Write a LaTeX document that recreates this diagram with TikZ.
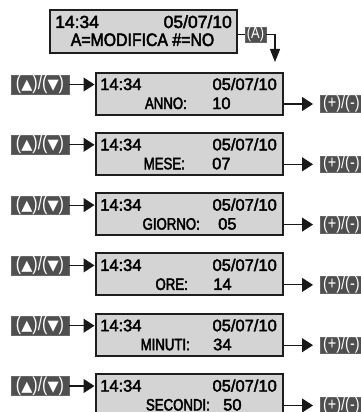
\documentclass[tikz,border=0pt]{standalone}
\usepackage{fontspec}
\setmainfont{Liberation Sans}
\newfontfamily\lcddig[FakeBold=2.5]{Liberation Sans}
\newfontfamily\lcdlet[FakeStretch=0.8,FakeBold=2.5]{Liberation Sans}
\newfontfamily\lcdtop[FakeStretch=0.88,FakeBold=2.5]{Liberation Sans}
\newfontfamily\keyfont[FakeStretch=0.8]{Liberation Sans}
\newfontfamily\symf{DejaVu Sans}
\usetikzlibrary{arrows.meta}
\definecolor{lcdgray}{HTML}{D4D4D4}
\definecolor{keygray}{HTML}{4F4F4F}
\definecolor{edgecol}{HTML}{1E1E1E}
\newcommand\keyup{{\symf\fontsize{14.5}{14.5}\selectfont ▲}}
\newcommand\keydn{{\symf\fontsize{14.5}{14.5}\selectfont ▼}}
\tikzset{
  lcd/.style={draw=edgecol, line width=2pt, fill=lcdgray, inner sep=0pt, anchor=north west,
    minimum width=187pt, minimum height=42pt},
  dig/.style={inner sep=0pt, font=\lcddig\fontsize{16.5}{16.5}\selectfont},
  lettxt/.style={inner sep=0pt, font=\lcdlet\fontsize{16.5}{16.5}\selectfont},
  keybox/.style={fill=keygray, draw=black!60, line width=0.4pt, text=white, inner sep=0pt},
  conn/.style={draw=black!90, line width=1.1pt},
  arr/.style={conn, -{Triangle[length=11pt,width=14pt]}},
  arrdown/.style={conn, -{Triangle[length=13pt,width=10pt]}},
}
\begin{document}
\begin{tikzpicture}[x=1pt,y=-1pt]
\path[use as bounding box] (0,0) rectangle (361,412);
\clip (0,0) rectangle (361,412);
\fill[white] (0,0) rectangle (361,412);
% top box
\node[lcd, minimum width=187pt, minimum height=43pt] (top) at (49,9.5) {};
\node[dig, anchor=base west, font=\lcddig\fontsize{17.5}{17.5}\selectfont] (toptime) at (55,28) {14:34};
\node[dig, anchor=base east, font=\lcddig\fontsize{17.5}{17.5}\selectfont] (topdate) at (232,28) {05/07/10};
\node[anchor=base, inner sep=0pt, font=\lcdtop\fontsize{18}{18}\selectfont] (topmsg) at (142.5,46) {A=MODIFICA \#=NO};
\node[keybox, minimum width=21pt, minimum height=11pt, font=\keyfont\fontsize{16}{16}\selectfont] (ka) at (255.5,34.5) {(A)};
\coordinate (aturn) at (275,34.5);
\coordinate (atip) at (275,62);
\draw[conn] (top.east |- ka) -- (ka.west);
\draw[arrdown] (ka.east) -- (aturn) -- (atip);
% rows
\foreach \i/\lab/\val/\le/\vs in {1/ANNO:/10/187/212, 2/MESE:/07/185/212, 3/GIORNO:/05/200/218,
    4/ORE:/14/188/213, 5/MINUTI:/34/190/213, 6/SECONDI:/50/210/223}{
  \pgfmathsetmacro\t{71+60.3*(\i-1)}
  \node[lcd] (b\i) at (94.5,\t+0.5) {};
  \node[dig, anchor=base west] (h\i) at (100,\t+19) {14:34};
  \node[dig, anchor=base east] (d\i) at (277,\t+19) {05/07/10};
  \node[lettxt, anchor=base east] (l\i) at (\le,\t+38) {\lab};
  \node[dig, anchor=base west] (v\i) at (\vs,\t+38) {\val};
  \node[keybox, minimum width=58pt, minimum height=17pt, font=\keyfont\fontsize{20}{20}\selectfont] (k\i) at (40,\t+13.5) {(\keyup)/(\keydn)};
  \draw[arr] (k\i.east) -- (b\i.west |- k\i.east);
  \node[keybox, anchor=west, minimum width=48pt, minimum height=14pt, font=\keyfont\fontsize{18}{18}\selectfont, text width=44pt, align=left] (p\i) at (320,\t+33) {\hspace{1pt}(+)/(-)};
  \coordinate (pt\i) at (313,\t+33);
  \draw[arr] (b\i.east |- p\i.west) -- (pt\i);
}
\end{tikzpicture}
\end{document}
